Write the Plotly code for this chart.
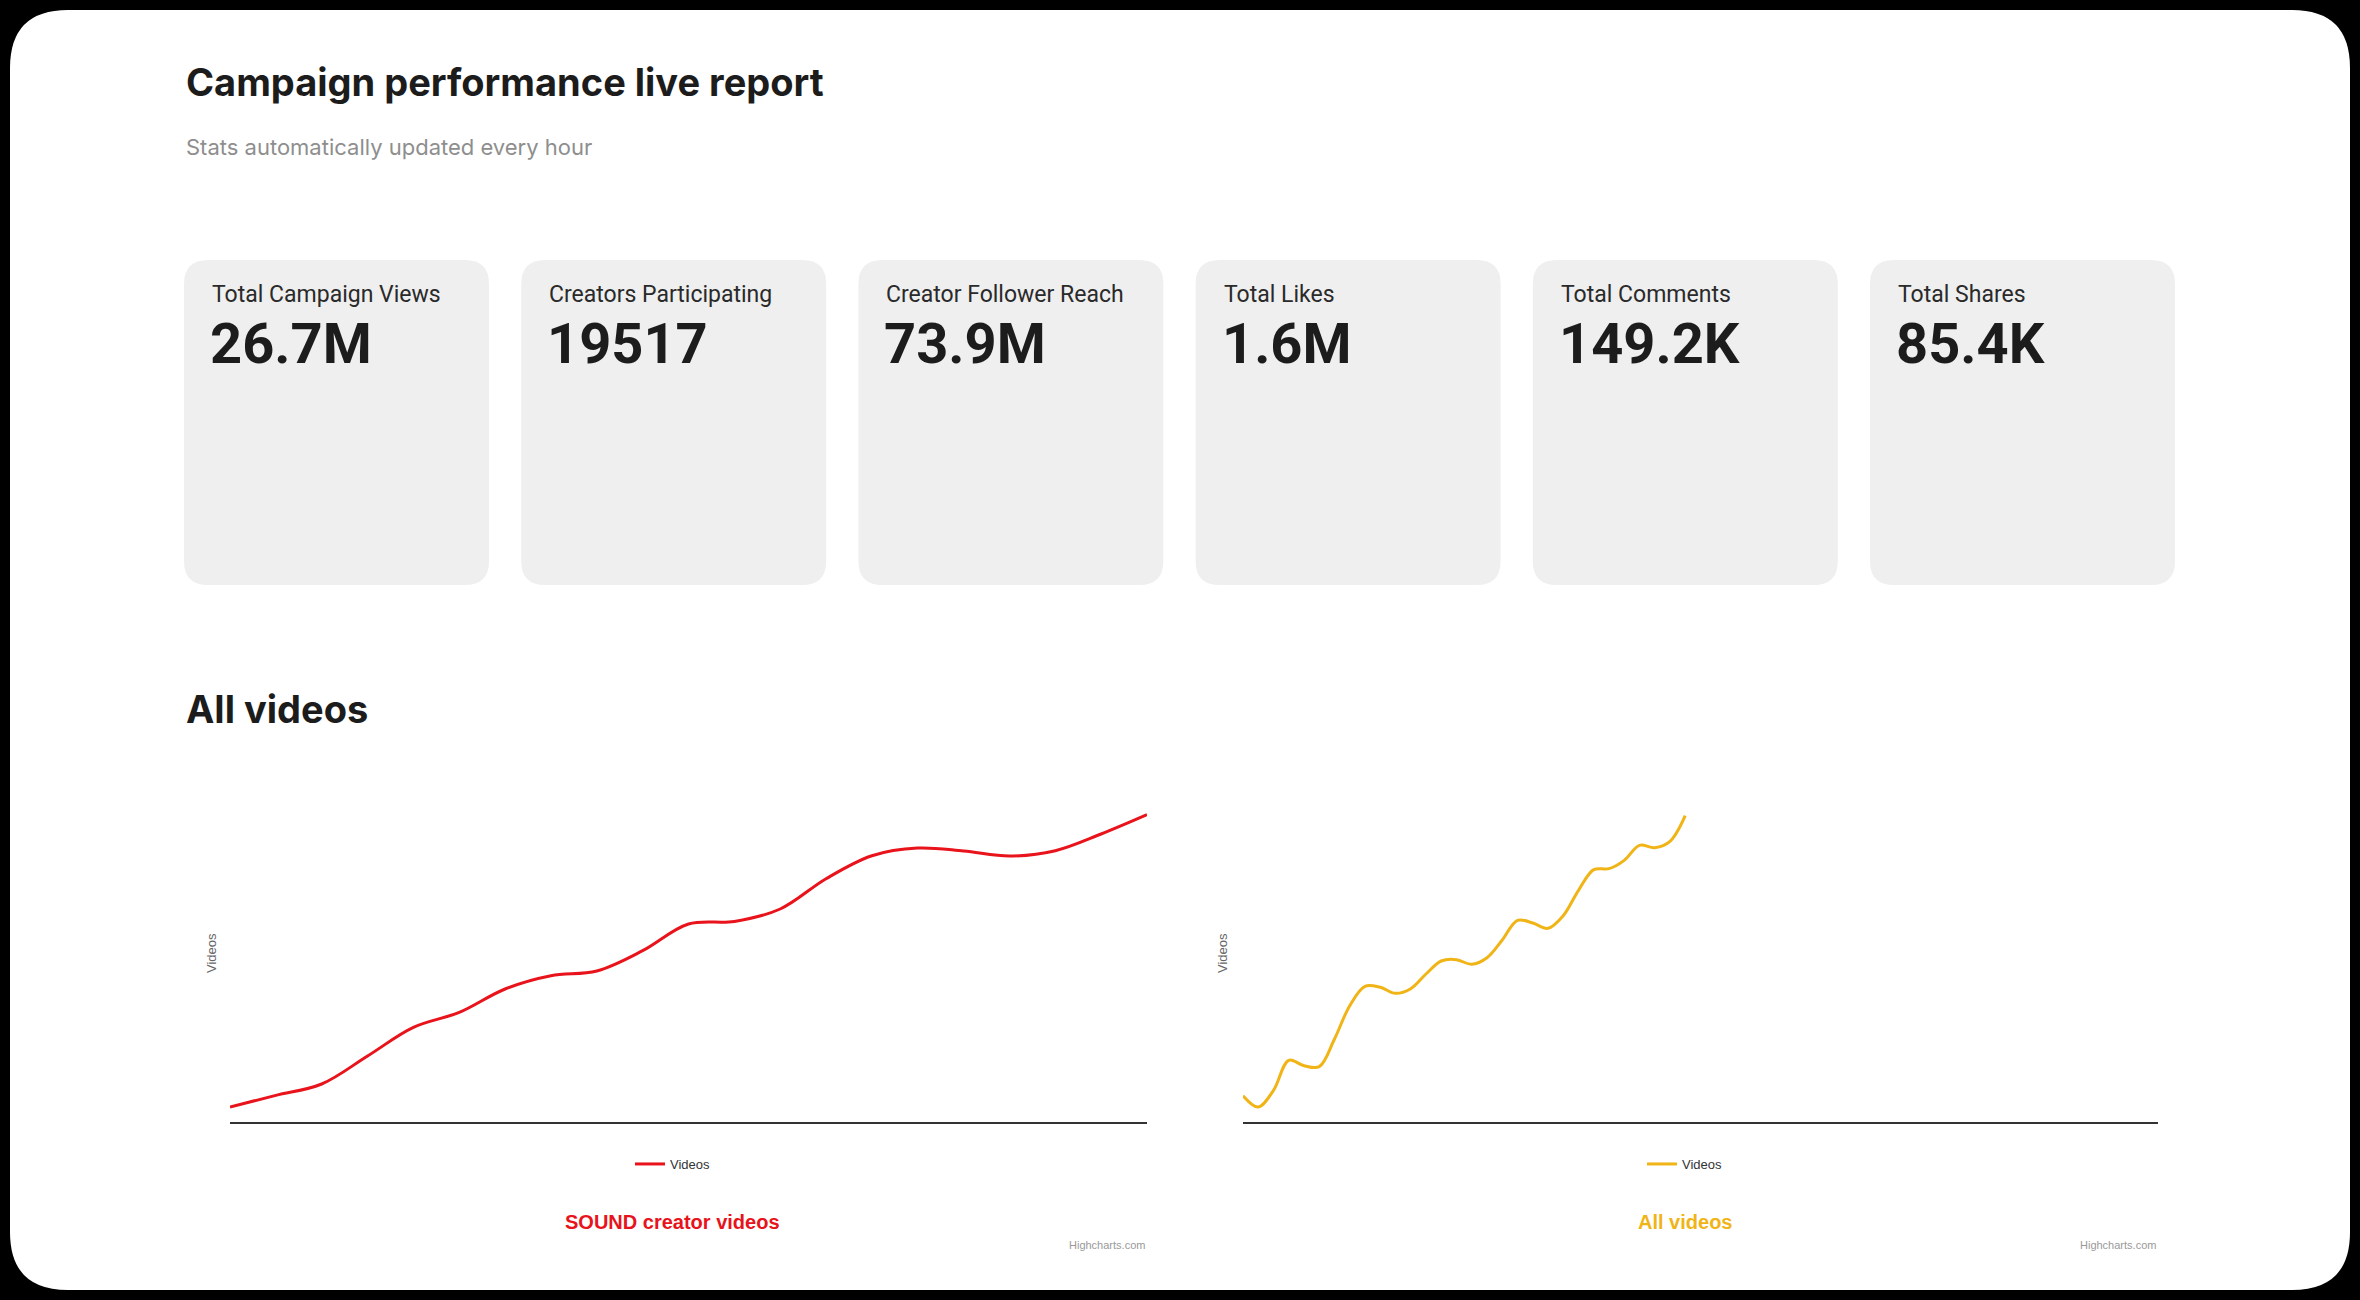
import plotly.graph_objects as go

# page size in pixels
W, H = 2360, 1300

# stat cards
card_labels = ["Total Campaign Views", "Creators Participating", "Creator Follower Reach",
               "Total Likes", "Total Comments", "Total Shares"]
card_values = ["26.7M", "19517", "73.9M", "1.6M", "149.2K", "85.4K"]

# SOUND creator videos (red chart), one point per day
sound_days = list(range(21))
sound_videos = [150, 266, 380, 660, 946, 1096, 1330, 1463, 1510, 1713, 1980,
                2006, 2130, 2433, 2663, 2740, 2710, 2660, 2713, 2880, 3073]

# All videos (yellow chart), data only covers the first half of the axis
all_days = list(range(30))
all_videos = [790, 450, 950, 1850, 1690, 1660, 2490, 3490, 4070, 4040,
              3860, 4000, 4440, 4830, 4870, 4730, 4930, 5460, 6050, 5970,
              5810, 6190, 6950, 7570, 7600, 7850, 8300, 8230, 8420, 9190]


def X(x):
    return x / W


def Y(y):
    return 1 - y / H


def rounded_rect(x0, y0, x1, y1, r):
    # rounded rectangle as an svg path in paper coords
    return (f"M {X(x0 + r)},{Y(y0)} L {X(x1 - r)},{Y(y0)} "
            f"Q {X(x1)},{Y(y0)} {X(x1)},{Y(y0 + r)} L {X(x1)},{Y(y1 - r)} "
            f"Q {X(x1)},{Y(y1)} {X(x1 - r)},{Y(y1)} L {X(x0 + r)},{Y(y1)} "
            f"Q {X(x0)},{Y(y1)} {X(x0)},{Y(y1 - r)} L {X(x0)},{Y(y0 + r)} "
            f"Q {X(x0)},{Y(y0)} {X(x0 + r)},{Y(y0)} Z")


def text(x, y, s, size, color, family="Roboto", weight=400, xanchor="left", angle=0):
    return dict(x=X(x), y=Y(y), xref="paper", yref="paper", text=s, showarrow=False,
                xanchor=xanchor, yanchor="middle", textangle=angle,
                font=dict(family=family, size=size, color=color, weight=weight))


fig = go.Figure()

fig.add_trace(go.Scatter(
    x=sound_days, y=sound_videos, mode="lines", name="Videos",
    line=dict(color="#e8131b", width=3, shape="spline"),
    xaxis="x", yaxis="y", legend="legend", hoverinfo="skip"))

fig.add_trace(go.Scatter(
    x=all_days, y=all_videos, mode="lines", name="Videos",
    line=dict(color="#f1b416", width=3, shape="spline"),
    xaxis="x2", yaxis="y2", legend="legend2", hoverinfo="skip"))

shapes = [dict(type="path", xref="paper", yref="paper", layer="below",
               path=rounded_rect(10, 10, 2350, 1290, 58),
               fillcolor="white", line=dict(width=0))]

annotations = [
    text(184, 82, "Campaign performance live report", 38, "#1c1c1c", family="Inter", weight=700),
    text(184, 147, "Stats automatically updated every hour", 22, "#8e8e8e", family="Inter"),
    text(184, 709, "All videos", 38, "#1c1c1c", family="Inter", weight=700),
]

card_w, card_step = 305, 337.2
for i, (lab, val) in enumerate(zip(card_labels, card_values)):
    x0 = 184 + i * card_step
    shapes.append(dict(type="path", xref="paper", yref="paper", layer="below",
                       path=rounded_rect(x0, 260, x0 + card_w, 585, 24),
                       fillcolor="#efefef", line=dict(width=0)))
    annotations.append(text(x0 + 26, 294, lab, 23, "#2a2a2a"))
    annotations.append(text(x0 + 24, 344, val, 56, "#1c1c1c", weight=700))

# highcharts style captions for the two charts
hc = "Liberation Sans"
annotations += [
    text(211, 953, "Videos", 13, "#666666", family=hc, xanchor="center", angle=-90),
    text(673, 1222, "<b>SOUND creator videos</b>", 20, "#e8131b", family=hc, xanchor="center"),
    text(1147, 1245, "Highcharts.com", 11, "#999999", family=hc, xanchor="right"),
    text(1222, 953, "Videos", 13, "#666666", family=hc, xanchor="center", angle=-90),
    text(1685, 1222, "<b>All videos</b>", 20, "#f1b416", family=hc, xanchor="center"),
    text(2158, 1245, "Highcharts.com", 11, "#999999", family=hc, xanchor="right"),
]

xax = dict(showline=True, linecolor="#333333", linewidth=2, showgrid=False,
           zeroline=False, showticklabels=False, ticks="", fixedrange=True)
yax = dict(showline=False, showgrid=False, zeroline=False, showticklabels=False,
           ticks="", fixedrange=True)

legend_style = dict(orientation="h", xanchor="center", yanchor="middle",
                    bgcolor="rgba(0,0,0,0)", font=dict(family=hc, size=13, color="#333333"))

fig.update_layout(
    width=W, height=H,
    margin=dict(l=0, r=0, t=0, b=0),
    paper_bgcolor="black",
    plot_bgcolor="rgba(0,0,0,0)",
    shapes=shapes,
    annotations=annotations,
    xaxis=dict(xax, domain=[X(230), X(1147)], range=[0, 20]),
    yaxis=dict(yax, domain=[Y(1122), Y(800)], range=[0, 3220]),
    xaxis2=dict(xax, domain=[X(1243), X(2158)], range=[0, 60], anchor="y2"),
    yaxis2=dict(yax, domain=[Y(1122), Y(800)], range=[0, 9660], anchor="x2"),
    legend=dict(legend_style, x=X(673), y=Y(1164)),
    legend2=dict(legend_style, x=X(1685), y=Y(1164)),
    showlegend=True,
)

# page has a default body margin, drop it so the frame sits at the window edge
fig.write_html("out.html", config={"displayModeBar": False},
               post_script="document.body.style.margin='0';"
                           "document.body.style.overflow='hidden';")
